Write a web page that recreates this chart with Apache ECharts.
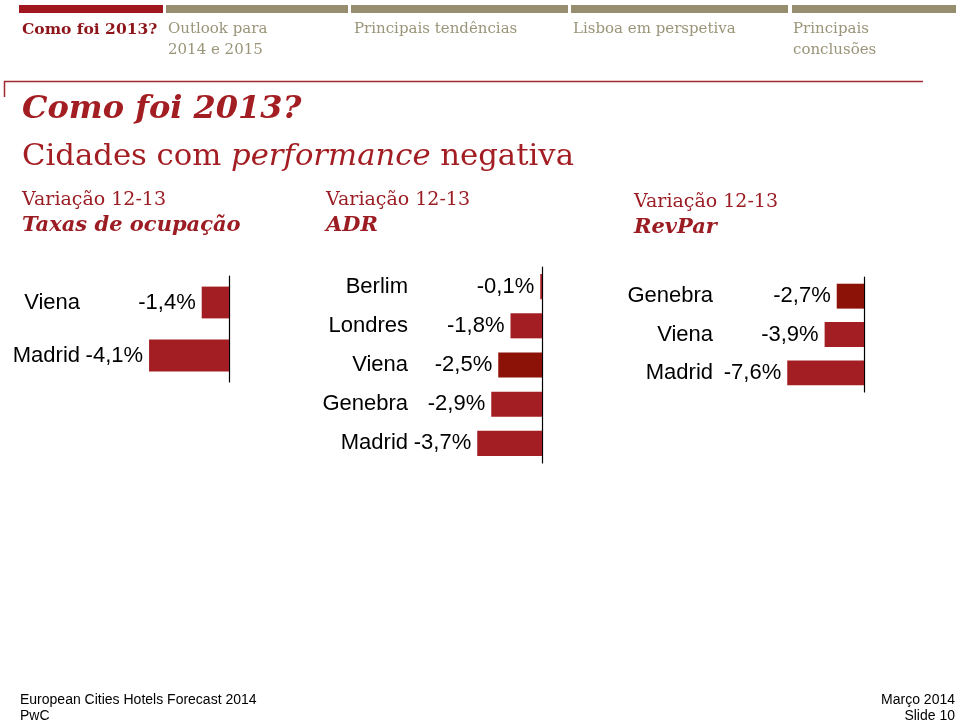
<!DOCTYPE html>
<html>
<head>
<meta charset="utf-8">
<script src="https://cdn.jsdelivr.net/npm/echarts@6/dist/echarts.min.js"></script>
<style>
html,body{margin:0;padding:0;background:#fff;}
#c{width:960px;height:723px;}
</style>
</head>
<body>
<div id="c"></div>
<script>
// ---- data ----
const occCities = ['Viena', 'Madrid'];
const occValues = [-1.4, -4.1];
const adrCities = ['Berlim', 'Londres', 'Viena', 'Genebra', 'Madrid'];
const adrValues = [-0.1, -1.8, -2.5, -2.9, -3.7];
const adrHighlight = ['Viena'];
const revCities = ['Genebra', 'Viena', 'Madrid'];
const revValues = [-2.7, -3.9, -7.6];
const revHighlight = ['Genebra'];
const navItems = ['Como foi 2013?', 'Outlook para\n2014 e 2015', 'Principais tendências', 'Lisboa em perspetiva', 'Principais\nconclusões'];

const RED = '#a31e23';
const DARK = '#8c1208';
const SERIF = '"DejaVu Serif", "Liberation Serif", serif';
const SANS = '"Liberation Sans", Arial, sans-serif';

function fmt(v) { return v.toFixed(1).replace('.', ',') + '%'; }

const chart = echarts.init(document.getElementById('c'), null, {renderer: 'canvas'});

const navBars = [[19, 163], [166, 348], [351, 568], [571, 788], [792, 956]];
const navTextX = [22, 168, 354, 573, 793];
const graphics = [];
navBars.forEach((b, i) => {
  graphics.push({type: 'rect', shape: {x: b[0], y: 5, width: b[1] - b[0], height: 8},
    style: {fill: i === 0 ? '#a0171d' : '#978d6f'}});
  graphics.push({type: 'text', x: navTextX[i], y: 19, style: {
    text: navItems[i], font: (i === 0 ? 'bold 15.5px ' : '15px ') + SERIF,
    fill: i === 0 ? '#8e161b' : '#9a9478', lineHeight: 21}});
});
// frame line
graphics.push({type: 'polyline', shape: {points: [[4.5, 97], [4.5, 81.5], [923, 81.5]]},
  style: {stroke: '#9e2a30', lineWidth: 1.5, fill: null}});
// headings
graphics.push({type: 'text', x: 22, y: 94, style: {text: 'Como foi 2013?',
  font: 'italic bold 32px ' + SERIF, fill: RED}});
graphics.push({type: 'text', x: 22, y: 142, style: {
  text: '{a|Cidades com }{b|performance}{a| negativa}',
  fill: RED,
  rich: {a: {fontSize: 30.7, fontFamily: SERIF, fill: RED},
         b: {fontSize: 30.7, fontFamily: SERIF, fontStyle: 'italic', fill: RED}}}});
const subs = [[22, 'Taxas de ocupação', 189], [326, 'ADR', 189], [634, 'RevPar', 191]];
subs.forEach(s => {
  graphics.push({type: 'text', x: s[0], y: s[2] + 2, style: {text: 'Variação 12-13', font: '19px ' + SERIF, fill: '#9b1c22'}});
  graphics.push({type: 'text', x: s[0], y: s[2] + 26, style: {text: s[1], font: 'italic bold 21px ' + SERIF, fill: '#9b1c22'}});
});
// footer
graphics.push({type: 'text', x: 20, y: 692, style: {text: 'European Cities Hotels Forecast 2014\nPwC', font: '14px ' + SANS, fill: '#000', lineHeight: 16}});
graphics.push({type: 'text', x: 955, y: 692, style: {text: 'Março 2014\nSlide 10', font: '14px ' + SANS, fill: '#000', lineHeight: 16, align: 'right'}});

function gridSpec(top, height, rightEdge, min, pxPerUnit) {
  const w = -min * pxPerUnit;
  return {top: top, height: height, left: rightEdge - w, width: w, containLabel: false, outerBoundsMode: 'none'};
}

const mins = [-6, -5, -10];
const grids = [
  gridSpec(276, 106, 229, mins[0], 19.5),
  gridSpec(267, 196, 542, mins[1], 17.5),
  gridSpec(277, 115, 864, mins[2], 10.1)
];
const cats = [occCities, adrCities, revCities];
const vals = [occValues, adrValues, revValues];
const highs = [[], adrHighlight, revHighlight];
const labelRight = [80, 408, 713];
const gaps = ['40%', '36%', '35%'];

const option = {
  animation: false,
  backgroundColor: '#fff',
  graphic: graphics,
  grid: grids,
  xAxis: grids.map((g, i) => ({type: 'value', gridIndex: i, min: mins[i], max: 0, show: false})),
  yAxis: grids.map((g, i) => ({
    type: 'category', gridIndex: i, data: cats[i], inverse: true,
    axisLine: {show: true, onZero: true, lineStyle: {color: '#000', width: 1.2}},
    axisTick: {show: false},
    axisLabel: {margin: g.left - labelRight[i], fontFamily: SANS, fontSize: 22, color: '#000', align: 'right'}
  })),
  series: grids.map((g, i) => ({
    type: 'bar', xAxisIndex: i, yAxisIndex: i,
    barCategoryGap: gaps[i],
    data: vals[i].map((v, j) => ({value: v, itemStyle: {color: highs[i].includes(cats[i][j]) ? DARK : RED}})),
    label: {show: true, position: 'left', distance: 6, fontFamily: SANS, fontSize: 22, color: '#000',
      formatter: p => fmt(p.value)}
  }))
};
chart.setOption(option);
</script>
</body>
</html>
